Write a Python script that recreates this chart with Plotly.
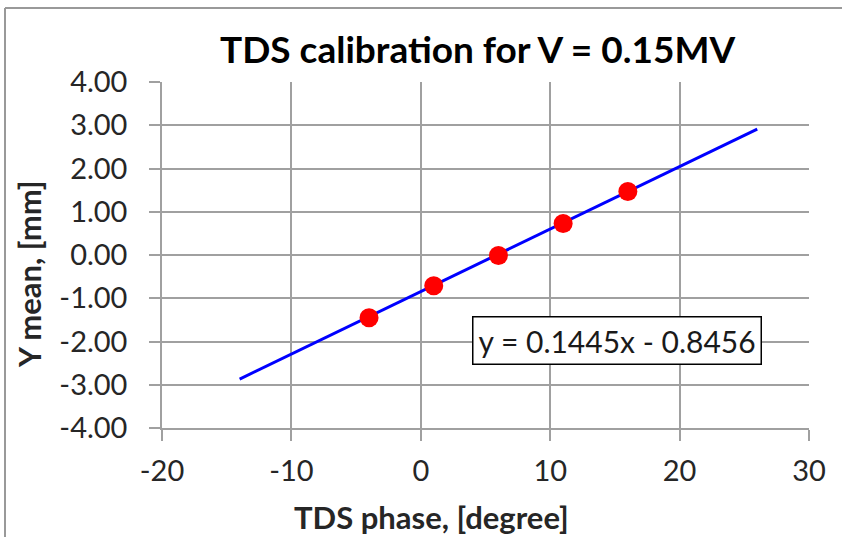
import plotly.graph_objects as go

# Measured beam position vs. TDS phase
phase_deg = [-4, 1, 6, 11, 16]
y_mean_mm = [-1.45, -0.71, -0.01, 0.73, 1.47]

# Linear fit shown on the chart
slope = 0.1445
intercept = -0.8456
fit_range = [-14, 26]
fit_label = "y = 0.1445x - 0.8456"

x_ticks = [-20, -10, 0, 10, 20, 30]
y_ticks = [-4, -3, -2, -1, 0, 1, 2, 3, 4]

FONT = "Lato"
GRID = "#A0A0A0"
TEXT = "#262626"

W, H = 842, 537
L, R, T, B = 162, 809, 82, 428


def px_x(p):
    return (p - L) / (R - L)


def px_y(p):
    return (B - p) / (B - T)


fig = go.Figure()

fig.add_trace(go.Scatter(
    x=fit_range,
    y=[slope * v + intercept for v in fit_range],
    mode="lines",
    line=dict(color="#0000FF", width=3),
    showlegend=False,
))

fig.add_trace(go.Scatter(
    x=phase_deg,
    y=y_mean_mm,
    mode="markers",
    marker=dict(color="#FF0000", size=19, line=dict(width=0)),
    showlegend=False,
))

axis_common = dict(
    showgrid=True,
    gridcolor=GRID,
    gridwidth=1.5,
    zeroline=False,
    showline=True,
    linecolor=GRID,
    linewidth=1.5,
    ticks="outside",
    ticklen=11,
    tickcolor=GRID,
    tickwidth=1.5,
    tickfont=dict(family=FONT, size=29, color=TEXT),
)

fig.update_xaxes(
    range=[-20, 30],
    tickvals=x_ticks,
    ticktext=[str(v) for v in x_ticks],
    ticklabelstandoff=5,
    **axis_common,
)
fig.update_yaxes(
    range=[-4, 4],
    tickvals=y_ticks,
    ticktext=[f"{v:.2f}" for v in y_ticks],
    ticklabelstandoff=16,
    **axis_common,
)

# Equation of the fitted line
fig.add_annotation(
    x=15.2, y=-1.97, xref="x", yref="y",
    text=fit_label, showarrow=False,
    xanchor="center", yanchor="middle",
    font=dict(family=FONT, size=30, color="#1a1a1a"),
    bgcolor="white", bordercolor="black", borderwidth=1.5, borderpad=5,
)

# Title and axis titles
fig.add_annotation(
    x=px_x(477), y=px_y(48), xref="paper", yref="paper",
    xanchor="center", yanchor="middle",
    text="<b>TDS calibration for V = 0.15MV</b>", showarrow=False,
    font=dict(family=FONT, size=37, color="black"),
)
fig.add_annotation(
    x=px_x(431), y=px_y(517), xref="paper", yref="paper",
    xanchor="center", yanchor="middle",
    text="<b>TDS phase, [degree]</b>", showarrow=False,
    font=dict(family=FONT, size=31, color=TEXT),
)
fig.add_annotation(
    x=px_x(29), y=px_y(274), xref="paper", yref="paper",
    xanchor="center", yanchor="middle",
    text="<b>Y mean, [mm]</b>", showarrow=False, textangle=-90,
    font=dict(family=FONT, size=31, color=TEXT),
)

# Outer chart frame (top and left edges)
fig.add_shape(type="line", xref="paper", yref="paper",
              x0=px_x(5), x1=px_x(842), y0=px_y(8), y1=px_y(8),
              line=dict(color="#999999", width=2))
fig.add_shape(type="line", xref="paper", yref="paper",
              x0=px_x(5), x1=px_x(5), y0=px_y(8), y1=px_y(537),
              line=dict(color="#999999", width=2))

fig.update_layout(
    width=W, height=H,
    margin=dict(l=L, r=W - R, t=T, b=H - B),
    paper_bgcolor="white",
    plot_bgcolor="white",
    showlegend=False,
)

fig.write_html("out.html")
